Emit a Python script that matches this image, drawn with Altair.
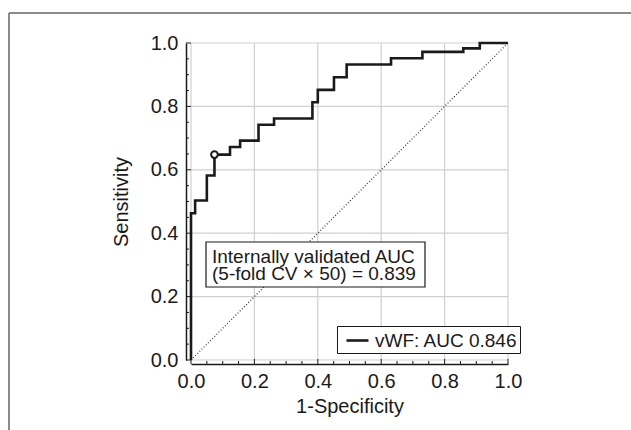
import altair as alt
import pandas as pd

FONT = "Liberation Sans"

# ROC curve (1-Specificity, Sensitivity) corner points
fpr = [0.0, 0.0, 0.013, 0.05, 0.074, 0.123, 0.155, 0.213, 0.262, 0.383, 0.40,
       0.451, 0.491, 0.631, 0.73, 0.859, 0.911, 1.0]
tpr = [0.0, 0.463, 0.503, 0.582, 0.648, 0.672, 0.692, 0.742, 0.762, 0.813, 0.852,
       0.892, 0.932, 0.952, 0.972, 0.983, 1.0, 1.0]
series_label = "vWF: AUC 0.846"

# optimal cut-off marker
cut_fpr = [0.074]
cut_tpr = [0.648]

# chance diagonal
chance = [0.0, 1.0]

grid_values = [0.0, 0.2, 0.4, 0.6, 0.8, 1.0]
minor_ticks = [0.05, 0.1, 0.15, 0.25, 0.3, 0.35, 0.45, 0.5, 0.55, 0.65, 0.7,
               0.75, 0.85, 0.9, 0.95]

annot_lines = ["Internally validated AUC", "(5-fold CV \u00d7 50) = 0.839"]

W, H = 317, 317

roc = pd.DataFrame({"fpr": fpr, "tpr": tpr, "order": list(range(len(fpr))),
                    "series": [series_label] * len(fpr)})
cut = pd.DataFrame({"fpr": cut_fpr, "tpr": cut_tpr})
diag = pd.DataFrame({"fpr": chance, "tpr": chance})
grid = pd.DataFrame({"v": grid_values})
minor = pd.DataFrame({"v": minor_ticks})
one = pd.DataFrame({"line1": [annot_lines[0]], "line2": [annot_lines[1]]})

xs = alt.Scale(domain=[0, 1], nice=False, zero=False)
ys = alt.Scale(domain=[0, 1], nice=False, zero=False)

axis_common = dict(format=".1f", values=grid_values, ticks=False, grid=False,
                   labelFlush=False, labelOverlap=False,
                   domainColor="#1a1a1a", domainWidth=1.5, labelFont=FONT,
                   labelFontSize=20, labelColor="#1a1a1a", titleFont=FONT,
                   titleFontSize=20, titleFontWeight="normal", titleColor="#1a1a1a")

# frame around the figure (top and left edges visible)
frame_top = alt.Chart(one).mark_rule(color="#666666", strokeWidth=1.5).encode(
    x=alt.value(-182), x2=alt.value(460), y=alt.value(-30))
frame_left = alt.Chart(one).mark_rule(color="#666666", strokeWidth=1.5).encode(
    x=alt.value(-182), y=alt.value(-30), y2=alt.value(420))

vgrid = alt.Chart(grid).mark_rule(color="#d0d0d0", strokeWidth=1.2).encode(
    x=alt.X("v:Q", scale=xs, title="1-Specificity",
            axis=alt.Axis(offset=4, labelPadding=7, titlePadding=5, **axis_common)),
    y=alt.value(0), y2=alt.value(H))
hgrid = alt.Chart(grid).mark_rule(color="#d0d0d0", strokeWidth=1.2).encode(
    y=alt.Y("v:Q", scale=ys, title="Sensitivity",
            axis=alt.Axis(offset=5, labelPadding=8, titlePadding=19, **axis_common)),
    x=alt.value(0), x2=alt.value(W))

# inward ticks
xt_major = alt.Chart(grid).mark_rule(color="#1a1a1a", strokeWidth=1).encode(
    x=alt.X("v:Q", scale=xs), y=alt.value(H + 4), y2=alt.value(H - 1))
xt_minor = alt.Chart(minor).mark_rule(color="#1a1a1a", strokeWidth=1).encode(
    x=alt.X("v:Q", scale=xs), y=alt.value(H + 4), y2=alt.value(H + 1))
yt_major = alt.Chart(grid).mark_rule(color="#1a1a1a", strokeWidth=1).encode(
    y=alt.Y("v:Q", scale=ys), x=alt.value(-5), x2=alt.value(0))
yt_minor = alt.Chart(minor).mark_rule(color="#1a1a1a", strokeWidth=1).encode(
    y=alt.Y("v:Q", scale=ys), x=alt.value(-5), x2=alt.value(-2))

diag_line = alt.Chart(diag).mark_line(color="#333333", strokeWidth=1.2,
                                      strokeDash=[1, 2]).encode(
    x=alt.X("fpr:Q", scale=xs), y=alt.Y("tpr:Q", scale=ys))

curve = alt.Chart(roc).mark_line(interpolate="step-after", strokeWidth=2.6).encode(
    x=alt.X("fpr:Q", scale=xs),
    y=alt.Y("tpr:Q", scale=ys),
    order="order:Q",
    color=alt.Color("series:N",
                    scale=alt.Scale(domain=[series_label], range=["#1a1a1a"]),
                    legend=alt.Legend(orient="none", legendX=146, legendY=283,
                                      title=None, strokeColor="#1a1a1a",
                                      fillColor="white", padding=2,
                                      symbolType="stroke", symbolStrokeWidth=2.6,
                                      symbolSize=484, symbolOffset=6,
                                      labelOffset=5, labelFontSize=19,
                                      labelFont=FONT, labelColor="#1a1a1a",
                                      labelLimit=0)))

cut_pt = alt.Chart(cut).mark_point(shape="circle", filled=False, fill="white",
                                   stroke="#1a1a1a", strokeWidth=2, size=45,
                                   opacity=1).encode(
    x=alt.X("fpr:Q", scale=xs), y=alt.Y("tpr:Q", scale=ys))

box = alt.Chart(one).mark_rect(fill="white", stroke="#1a1a1a", strokeWidth=1.2).encode(
    x=alt.value(15), x2=alt.value(234), y=alt.value(199), y2=alt.value(244))
txt1 = alt.Chart(one).mark_text(align="left", baseline="alphabetic", font=FONT,
                                fontSize=19, color="#1a1a1a").encode(
    x=alt.value(21), y=alt.value(220), text="line1:N")
txt2 = alt.Chart(one).mark_text(align="left", baseline="alphabetic", font=FONT,
                                fontSize=19, color="#1a1a1a").encode(
    x=alt.value(21), y=alt.value(237), text="line2:N")

chart = alt.layer(
    frame_top, frame_left, vgrid, hgrid, xt_major, xt_minor, yt_major, yt_minor,
    diag_line, curve, cut_pt, box, txt1, txt2
).properties(
    width=W, height=H,
    autosize=alt.AutoSizeParams(type="none"),
    padding={"left": 191, "top": 43, "right": 123, "bottom": 70},
    background="white",
).configure_view(strokeWidth=0)

chart.save("out.html", embed_options={"renderer": "svg", "actions": False})
